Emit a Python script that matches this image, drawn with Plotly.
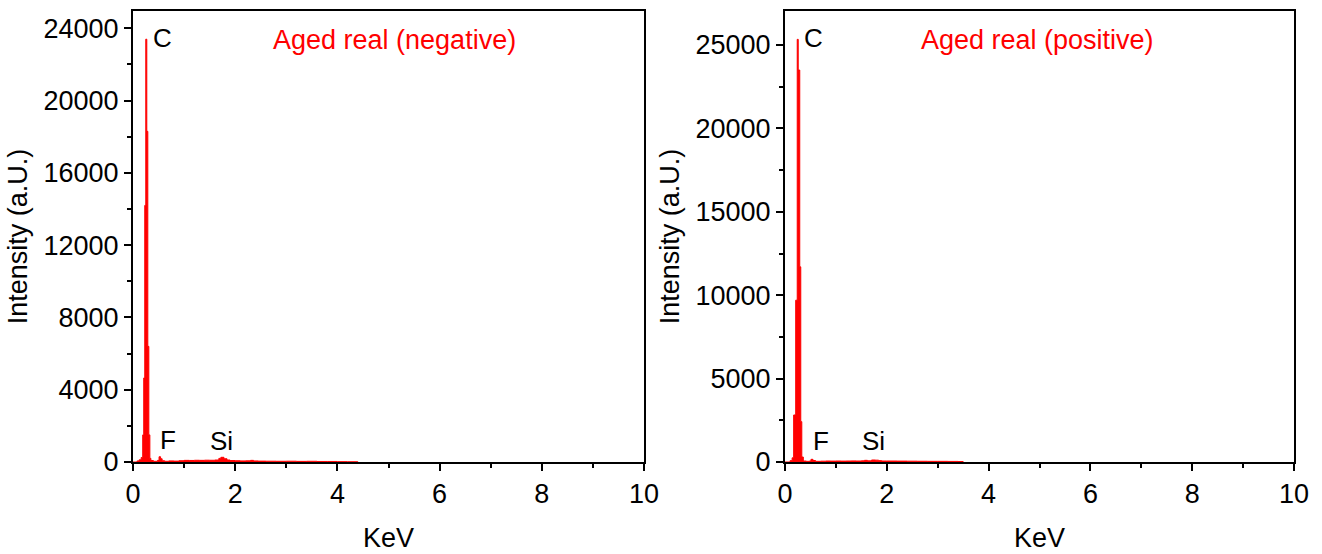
import plotly.graph_objects as go

# EDS spectrum, aged real sample, negative electrode (energy in keV, counts)
kev_neg = [0.00, 0.08, 0.12, 0.16, 0.19, 0.21, 0.23, 0.25, 0.27, 0.29, 0.31, 0.33,
           0.35, 0.40, 0.48, 0.51, 0.54, 0.57, 0.62, 0.70, 0.80, 0.90, 1.00, 1.10,
           1.20, 1.30, 1.40, 1.50, 1.60, 1.68, 1.72, 1.78, 1.84, 1.90, 2.00, 2.10,
           2.20, 2.30, 2.36, 2.45, 2.60, 2.80, 3.00, 3.20, 3.40, 3.60, 3.80, 4.00,
           4.20, 4.40]
counts_neg = [0, 60, 120, 250, 1500, 4650, 14200, 23400, 18300, 6400, 1500, 200,
              80, 40, 90, 290, 180, 70, 40, 60, 50, 70, 90, 85,
              95, 90, 100, 95, 110, 200, 260, 180, 110, 80, 70, 60,
              65, 90, 60, 50, 45, 40, 45, 35, 40, 30, 30, 20,
              15, 0]

# EDS spectrum, aged real sample, positive electrode
kev_pos = [0.00, 0.10, 0.14, 0.17, 0.21, 0.24, 0.26, 0.29, 0.31, 0.33, 0.36, 0.42,
           0.48, 0.51, 0.55, 0.60, 0.70, 0.80, 0.90, 1.00, 1.10, 1.20, 1.30, 1.40,
           1.50, 1.56, 1.62, 1.70, 1.78, 1.84, 1.90, 2.00, 2.20, 2.40, 2.60, 2.80,
           3.00, 3.20, 3.40, 3.50]
counts_pos = [0, 80, 250, 2820, 9700, 25340, 23500, 11700, 2420, 300, 60, 40,
              60, 160, 90, 40, 50, 60, 55, 60, 55, 60, 65, 60,
              70, 100, 70, 120, 110, 80, 60, 60, 55, 50, 45, 40,
              40, 35, 30, 0]

# Peak labels: (text, keV, intensity)
labels_neg = [("C", 0.58, 23465), ("F", 0.68, 1233), ("Si", 1.74, 1180)]
labels_pos = [("C", 0.56, 25420), ("F", 0.71, 1276), ("Si", 1.73, 1276)]
title_neg = ("Aged real (negative)", 5.11, 23350)
title_pos = ("Aged real (positive)", 4.97, 25280)

FONT = "Liberation Sans, Arial, sans-serif"
RED = "#FF0000"

fig = go.Figure()
fig.add_trace(go.Scatter(x=kev_neg, y=counts_neg, mode="lines", line=dict(color=RED, width=1, shape="hv"),
                         fill="tozeroy", fillcolor=RED, xaxis="x", yaxis="y", showlegend=False))
fig.add_trace(go.Scatter(x=kev_pos, y=counts_pos, mode="lines", line=dict(color=RED, width=1, shape="hv"),
                         fill="tozeroy", fillcolor=RED, xaxis="x2", yaxis="y2", showlegend=False))

axis_common = dict(
    showline=True, linecolor="black", linewidth=2, mirror=True,
    ticks="outside", ticklen=7, tickwidth=2, tickcolor="black",
    showgrid=False, zeroline=False, automargin=False,
    tickfont=dict(family=FONT, size=27, color="black"),
)

def xaxis(domain, anchor):
    return dict(axis_common, domain=domain, anchor=anchor, range=[0, 10], dtick=2, tick0=0,
                minor=dict(dtick=1, ticks="outside", ticklen=4, tickwidth=2, tickcolor="black"),
                title=dict(text="KeV", font=dict(family=FONT, size=27, color="black"), standoff=20))

def yaxis(domain, anchor, rng, dtick):
    return dict(axis_common, domain=domain, anchor=anchor, range=rng, dtick=dtick, tick0=0,
                tickformat="d",
                minor=dict(dtick=dtick / 2, ticks="outside", ticklen=4, tickwidth=2, tickcolor="black"),
                title=dict(text="Intensity (a.U.)", font=dict(family=FONT, size=27, color="black"), standoff=8))

ydom = [1 - 462 / 554, 1 - 11 / 554]
fig.update_layout(
    width=1322, height=554,
    margin=dict(l=0, r=0, t=0, b=0),
    paper_bgcolor="white", plot_bgcolor="white",
    xaxis=xaxis([133 / 1322, 644 / 1322], "y"),
    yaxis=yaxis(ydom, "x", [0, 24960], 4000),
    xaxis2=xaxis([785 / 1322, 1294 / 1322], "y2"),
    yaxis2=yaxis(ydom, "x2", [0, 27040], 5000),
)

annotations = []
for (txt, x, y) in labels_neg:
    annotations.append(dict(text=txt, x=x, y=y, xref="x", yref="y", showarrow=False,
                            font=dict(family=FONT, size=26, color="black")))
for (txt, x, y) in labels_pos:
    annotations.append(dict(text=txt, x=x, y=y, xref="x2", yref="y2", showarrow=False,
                            font=dict(family=FONT, size=26, color="black")))
annotations.append(dict(text=title_neg[0], x=title_neg[1], y=title_neg[2], xref="x", yref="y",
                        showarrow=False, font=dict(family=FONT, size=27, color=RED)))
annotations.append(dict(text=title_pos[0], x=title_pos[1], y=title_pos[2], xref="x2", yref="y2",
                        showarrow=False, font=dict(family=FONT, size=27, color=RED)))
fig.update_layout(annotations=annotations)

fig.write_html("out.html")
